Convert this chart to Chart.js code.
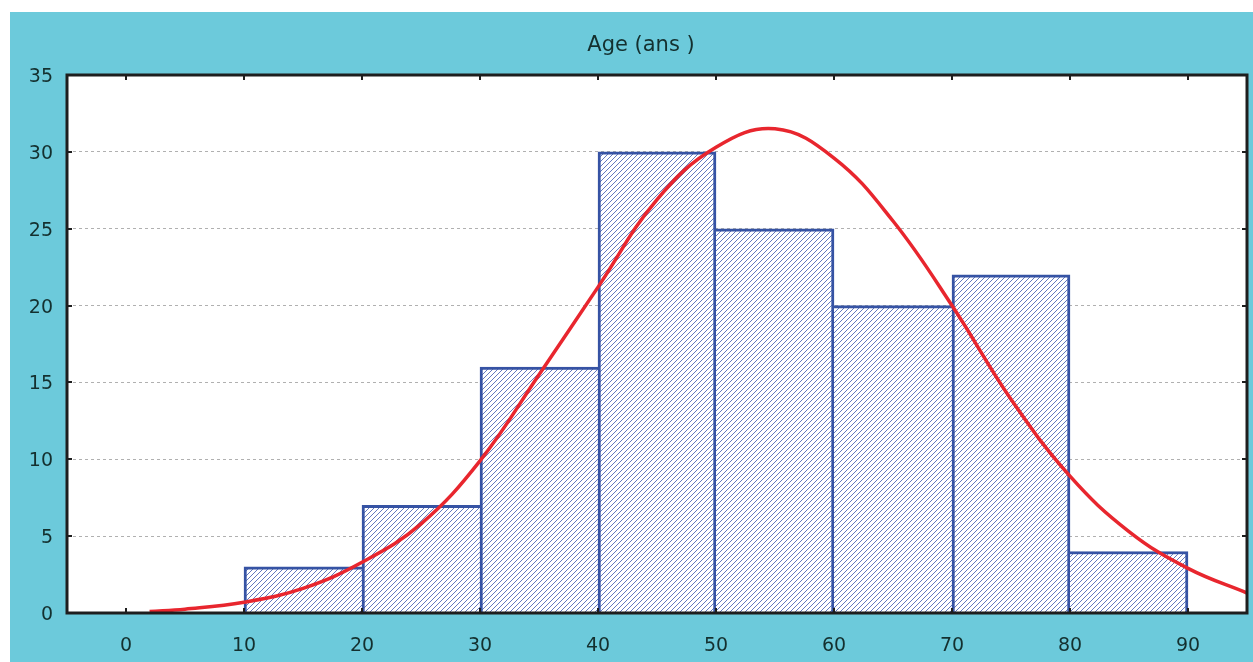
<!DOCTYPE html>
<html>
<head>
<meta charset="utf-8">
<script src="https://cdn.jsdelivr.net/npm/chart.js@4/dist/chart.umd.min.js"></script>
<style>
    body { margin: 0; background: #fff; }
    #Frame { position: absolute; left: 10px; top: 12px; width: 1243px; height: 650px; background: #6ccadb; }
</style>
</head>
<body>
<div id="Frame"><canvas id="AgeChart" width="1243" height="650"></canvas></div>
<script>
// histogram bins (start of each 10-year class) and counts
const binStarts = [10, 20, 30, 40, 50, 60, 70, 80];
const binCounts = [3, 7, 16, 30, 25, 20, 22, 4];
const binWidth = 10;

// fitted normal curve
const curveX = [2, 5, 10, 15, 20, 25, 30, 35, 40, 45, 50, 55, 60, 65, 70, 75, 80, 85, 90, 95];
const curveY = [0.1, 0.25, 0.7, 1.6, 3.3, 5.8, 9.9, 15.5, 21.2, 26.9, 30.3, 31.5, 29.6, 25.5, 20.0, 13.9, 8.9, 5.3, 2.9, 1.3];

// tick labels
const xTicks = [0, 10, 20, 30, 40, 50, 60, 70, 80, 90];
const yTicks = [0, 5, 10, 15, 20, 25, 30, 35];

const titleText = "Age (ans )";
const labelFont = { family: "DejaVu Sans", size: 19 };
const labelColor = "#14302f";

function makeHatch() {
    let tile = document.createElement("canvas");
    tile.width = 5;
    tile.height = 5;
    let c = tile.getContext("2d");
    c.fillStyle = "#ffffff";
    c.fillRect(0, 0, 5, 5);
    c.strokeStyle = "#5069b8";
    c.lineWidth = 0.9;
    c.beginPath();
    c.moveTo(-1, 6); c.lineTo(6, -1);
    c.stroke();
    return c.createPattern(tile, "repeat");
}

// shared edge between two bins is drawn once, by the taller bin
function barBorder(ctx) {
    let i = ctx.dataIndex;
    let n = binCounts[i];
    let prev = binCounts[i - 1];
    let next = binCounts[i + 1];
    return {
        top: 3,
        bottom: 0,
        left: (prev === undefined || prev <= n) ? 3 : 0,
        right: (next === undefined || next < n) ? 3 : 0
    };
}

// white plot background, border, inward tick marks and the title
const framePlugin = {
    id: "frame",
    beforeDraw(chart) {
        const { ctx, chartArea: a } = chart;
        ctx.save();
        ctx.fillStyle = "#ffffff";
        ctx.fillRect(a.left, a.top, a.right - a.left, a.bottom - a.top);
        ctx.restore();
    },
    afterDatasetsDraw(chart) {
        const { ctx, chartArea: a, scales } = chart;
        ctx.save();
        ctx.strokeStyle = "#1e1e1e";
        ctx.lineWidth = 3;
        ctx.strokeRect(a.left, a.top, a.right - a.left, a.bottom - a.top);
        ctx.lineWidth = 2;
        ctx.beginPath();
        for (let v of xTicks) {
            let px = Math.round(scales.x.getPixelForValue(v));
            ctx.moveTo(px, a.bottom); ctx.lineTo(px, a.bottom - 5);
            ctx.moveTo(px, a.top); ctx.lineTo(px, a.top + 5);
        }
        for (let v of yTicks) {
            let py = Math.round(scales.y.getPixelForValue(v));
            ctx.moveTo(a.left, py); ctx.lineTo(a.left + 5, py);
            ctx.moveTo(a.right, py); ctx.lineTo(a.right - 5, py);
        }
        ctx.stroke();
        ctx.restore();
    },
    afterDraw(chart) {
        const ctx = chart.ctx;
        ctx.save();
        ctx.font = "21px 'DejaVu Sans'";
        ctx.fillStyle = labelColor;
        ctx.textAlign = "center";
        ctx.textBaseline = "alphabetic";
        ctx.fillText(titleText, 631, 39);
        ctx.restore();
    }
};

function setUpChart() {
    const bars = binStarts.map((s, i) => ({ x: s + binWidth / 2, y: binCounts[i] }));
    const curve = curveX.map((x, i) => ({ x: x, y: curveY[i] }));

    new Chart(document.getElementById("AgeChart"), {
        type: "bar",
        data: {
            datasets: [
                {
                    type: "line",
                    data: curve,
                    borderColor: "#e8262e",
                    borderWidth: 3.5,
                    pointRadius: 0,
                    tension: 0.4,
                    order: 0
                },
                {
                    type: "bar",
                    data: bars,
                    backgroundColor: makeHatch(),
                    borderColor: "#3653a4",
                    borderWidth: barBorder,
                    borderSkipped: false,
                    barPercentage: 1,
                    categoryPercentage: 1,
                    order: 1
                }
            ]
        },
        options: {
            responsive: false,
            animation: false,
            layout: { padding: { top: 63, right: 6, left: 0, bottom: 0 } },
            plugins: {
                legend: { display: false },
                tooltip: { enabled: false },
                title: { display: false }
            },
            scales: {
                x: {
                    type: "linear",
                    min: -5,
                    max: 95,
                    offset: false,
                    afterBuildTicks: scale => { scale.ticks = xTicks.map(v => ({ value: v })); },
                    afterFit: scale => { scale.height = 49; },
                    grid: { display: false },
                    border: { display: false },
                    ticks: { font: labelFont, color: labelColor, padding: 14, maxRotation: 0 }
                },
                y: {
                    min: 0,
                    max: 35,
                    afterBuildTicks: scale => { scale.ticks = yTicks.map(v => ({ value: v })); },
                    afterFit: scale => { scale.width = 57; },
                    grid: {
                        drawTicks: false,
                        lineWidth: 1,
                        color: c => (c.tick && (c.tick.value === 0 || c.tick.value === 35)) ? "rgba(0,0,0,0)" : "#b0b0b0"
                    },
                    border: { display: false, dash: [3, 3] },
                    ticks: { font: labelFont, color: labelColor, padding: 14, labelOffset: 2 }
                }
            }
        },
        plugins: [framePlugin]
    });
}

window.addEventListener("load", function () {
    setUpChart();
});
</script>
</body>
</html>
